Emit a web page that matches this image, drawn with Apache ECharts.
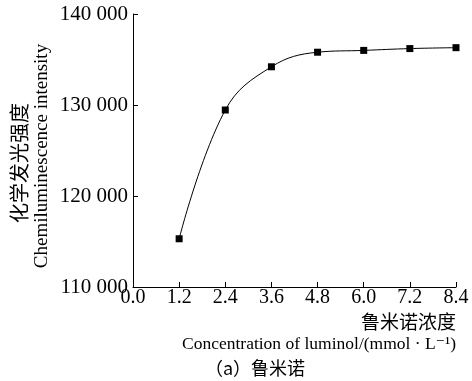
<!DOCTYPE html>
<html>
<head>
<meta charset="utf-8">
<script src="https://cdn.jsdelivr.net/npm/echarts@6/dist/echarts.min.js"></script>
<style>
  html, body { margin: 0; padding: 0; background: #fff; }
  #chart { width: 472px; height: 381px; }
</style>
</head>
<body>
<div id="chart"></div>
<script>
const concentration = [1.2, 2.4, 3.6, 4.8, 6.0, 7.2, 8.4];
const intensity = [115300, 129450, 134200, 135800, 136000, 136200, 136300];
const yTicks = [110000, 120000, 130000, 140000];

const serif = "'Liberation Serif', 'DejaVu Serif', serif";
const cjk = "'Noto Sans CJK SC', sans-serif";

const chart = echarts.init(document.getElementById("chart"));

const option = {
  animation: false,
  grid: { left: 133, right: 16, top: 14, bottom: 94 },
  xAxis: {
    type: "value",
    min: 0,
    max: 8.4,
    interval: 1.2,
    axisLine: { show: true, lineStyle: { color: "#000", width: 1 } },
    axisTick: { show: true, inside: true, length: 5, lineStyle: { color: "#000" } },
    axisLabel: {
      color: "#000",
      fontFamily: serif,
      fontSize: 20,
      margin: 1,
      formatter: (v) => v.toFixed(1),
    },
    splitLine: { show: false },
  },
  yAxis: {
    type: "value",
    min: yTicks[0],
    max: yTicks[yTicks.length - 1],
    interval: 10000,
    axisLine: { show: true, lineStyle: { color: "#000", width: 1 } },
    axisTick: { show: true, inside: true, length: 5, lineStyle: { color: "#000" } },
    axisLabel: {
      color: "#000",
      fontFamily: serif,
      fontSize: 21,
      margin: 5,
      formatter: (v) => String(v).replace(/\B(?=(\d{3})+(?!\d))/g, " "),
    },
    splitLine: { show: false },
  },
  series: [
    {
      type: "line",
      data: concentration.map((c, i) => [c, intensity[i]]),
      smooth: 0.4,
      symbol: "rect",
      symbolSize: 7,
      itemStyle: { color: "#000" },
      lineStyle: { color: "#000", width: 1 },
    },
  ],
  graphic: [
    {
      type: "text",
      x: 19,
      y: 163,
      rotation: Math.PI / 2,
      style: {
        text: "化学发光强度",
        font: "20px " + cjk,
        fill: "#000",
        align: "center",
        verticalAlign: "middle",
      },
    },
    {
      type: "text",
      x: 42,
      y: 156,
      rotation: Math.PI / 2,
      style: {
        text: "Chemiluminescence intensity",
        font: "19px " + serif,
        fill: "#000",
        align: "center",
        verticalAlign: "middle",
      },
    },
    {
      type: "text",
      x: 456,
      y: 322,
      style: {
        text: "鲁米诺浓度",
        font: "19px " + cjk,
        fill: "#000",
        align: "right",
        verticalAlign: "middle",
      },
    },
    {
      type: "text",
      x: 456,
      y: 344,
      style: {
        text: "Concentration of luminol/(mmol · L⁻¹)",
        font: "17.5px " + serif,
        fill: "#000",
        align: "right",
        verticalAlign: "middle",
      },
    },
    {
      type: "text",
      x: 255,
      y: 368,
      style: {
        text: "（a）鲁米诺",
        font: "18px " + cjk,
        fill: "#000",
        align: "center",
        verticalAlign: "middle",
      },
    },
  ],
};

chart.setOption(option);
</script>
</body>
</html>
